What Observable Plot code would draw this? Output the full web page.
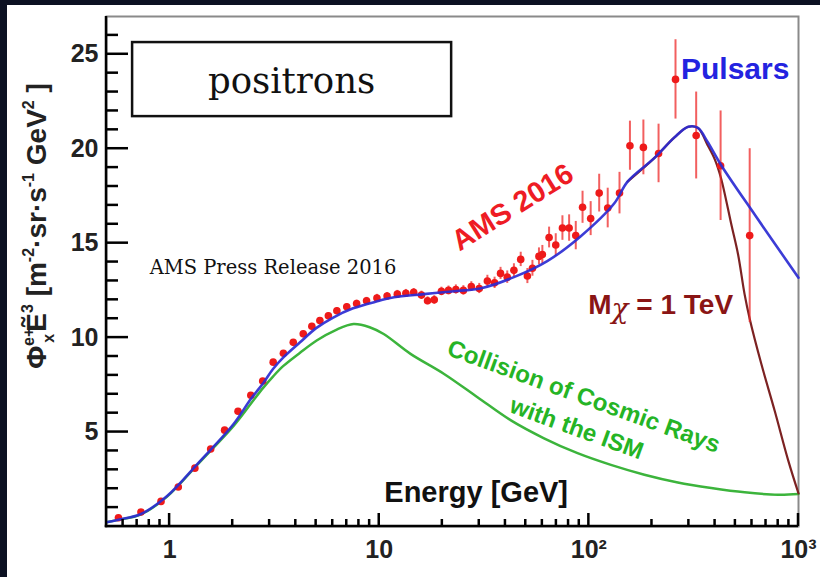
<!DOCTYPE html>
<html><head><meta charset="utf-8">
<script src="https://cdn.jsdelivr.net/npm/d3@7"></script>
<script src="https://cdn.jsdelivr.net/npm/@observablehq/plot@0.6"></script>
<style>
html,body{margin:0;padding:0;width:820px;height:577px;overflow:hidden;background:#0c1122;}
#panel{position:absolute;left:7px;top:5px;width:813px;height:572px;background:#fff;}
#chart{position:absolute;left:0;top:0;}
</style></head><body>
<div id="panel"></div><div id="chart"></div>
<script>
// AMS 2016 positron flux x E^3
const energy = [0.57,0.73,0.91,1.10,1.32,1.57,1.83,2.12,2.44,2.78,3.12,3.49,3.89,4.34,4.77,5.21,5.72,6.28,7.0,7.8,8.7,9.75,10.9,12.2,13.4,14.6,15.9,17.0,18.3,19.8,21.4,23.2,25.2,27.5,30.0,32.8,35.5,37.9,40.8,43.9,47.3,50.9,53.8,57.8,60.0,64.6,69.5,74.8,80.5,86.6,93.3,102,112,123,140,157,182,215,259,325,425,585];
const flux = [0.46,0.77,1.33,2.09,3.09,4.10,5.10,6.10,6.95,7.70,8.70,9.17,9.75,10.2,10.6,10.9,11.16,11.42,11.63,11.8,11.95,12.1,12.2,12.3,12.35,12.4,12.25,11.95,12.0,12.45,12.5,12.55,12.5,12.7,12.6,13.0,12.9,13.4,13.2,13.56,14.14,13.26,13.67,14.3,14.4,15.3,14.9,15.8,15.8,15.4,16.9,16.3,17.65,16.86,17.65,20.16,20.07,19.75,23.67,20.7,19.1,15.4];
const fluxErr = [0.05,0.06,0.07,0.08,0.09,0.1,0.1,0.11,0.12,0.13,0.14,0.14,0.15,0.15,0.15,0.16,0.16,0.17,0.17,0.18,0.18,0.19,0.19,0.2,0.2,0.2,0.21,0.21,0.22,0.22,0.23,0.24,0.25,0.26,0.27,0.3,0.3,0.32,0.33,0.35,0.38,0.4,0.42,0.45,0.48,0.55,0.6,0.65,0.7,0.75,0.85,0.9,1.0,1.05,1.1,1.3,1.45,1.55,2.1,2.3,2.9,4.6];

// Pulsars model (blue)
const pulsarEnergy = [0.5,0.57,0.73,0.97,1.39,2.01,2.44,2.8,3.12,3.49,4.19,5.0,6.0,7.5,10,11.3,16.3,23.5,30.3,43.9,63.3,91.5,132,153,205,256,298,331,368,427,619,1000];
const pulsarFlux = [0.23,0.36,0.66,1.6,3.44,5.4,6.75,7.6,8.35,8.95,9.75,10.5,11.05,11.55,11.95,12.1,12.3,12.47,12.6,13.2,14.05,15.37,17.1,18.26,19.5,20.6,21.16,21.1,20.37,19.14,16.5,13.17];

// Dark matter model M_chi = 1 TeV (brown)
const darkMatterEnergy = [153,205,256,298,331,368,400,427,478,515,553,585,665,771,893,1000];
const darkMatterFlux = [18.26,19.5,20.6,21.16,21.1,20.2,19.4,18.44,16.0,14.4,12.3,11.0,8.6,6.1,3.5,1.75];

// Collision of cosmic rays with the ISM (green)
const secondaryEnergy = [0.5,0.57,0.73,0.97,1.39,2.01,2.44,2.8,3.12,3.49,4.19,5.03,6.2,7.54,9.0,10.5,14.1,20.3,29.3,42.3,61.1,88.3,127.4,184,265.6,383.6,553.6,799,1000];
const secondaryFlux = [0.23,0.35,0.64,1.57,3.4,5.3,6.5,7.35,7.95,8.5,9.2,9.85,10.4,10.72,10.55,10.19,9.14,8.09,6.86,5.63,4.67,3.88,3.26,2.74,2.33,2.04,1.81,1.68,1.72];

// ticks
const xMajorTicks = [1,10,100,1000];
const xTickLabels = ["1","10","10²","10³"];
const xMinorTicks = [0.6,0.7,0.8,0.9,2,3,4,5,6,7,8,9,20,30,40,50,60,70,80,90,200,300,400,500,600,700,800,900];
const yMajorTicks = [5,10,15,20,25];
const yMinorTicks = [1,2,3,4,6,7,8,9,11,12,13,14,16,17,18,19,21,22,23,24,26];

const points = energy.map((e,i)=>({e, f: flux[i], err: fluxErr[i]}));
const pulsar = pulsarEnergy.map((e,i)=>({e, f: pulsarFlux[i]}));
const dm = darkMatterEnergy.map((e,i)=>({e, f: darkMatterFlux[i]}));
const sec = secondaryEnergy.map((e,i)=>({e, f: secondaryFlux[i]}));

const sans = "'Liberation Sans', Arial, Helvetica, sans-serif";
const serif = "'DejaVu Serif', serif";
const axisColor = "#000000";
const xMin = 0.5, xMax = 1000, yMin = 0, yMax = 27;
const W = 820, H = 577, mL = 106, mR = 22, mT = 16, mB = 51;
// pixel lengths converted to data offsets along each scale
const pxPerDecade = (W - mL - mR) / Math.log10(xMax / xMin);
const pxPerUnitY = (H - mT - mB) / (yMax - yMin);
const xAt = px => xMin * Math.pow(10, px / pxPerDecade);
const yAt = px => yMin + px / pxPerUnitY;
const kx = w => Math.pow(10, (w / 2) / pxPerDecade);
const hy = w => (w / 2) / pxPerUnitY;

const chart = Plot.plot({
  width: W, height: H,
  marginLeft: mL, marginRight: mR, marginTop: mT, marginBottom: mB,
  style: {background: "transparent", fontFamily: sans, overflow: "visible"},
  x: {type: "log", domain: [xMin, xMax]},
  y: {domain: [yMin, yMax]},
  marks: [
    Plot.frame({stroke: "#8a8a8a", strokeWidth: 2}),
    Plot.axisY(yMajorTicks, {tickSize: 0, tickPadding: 8, label: null, fontSize: 25, fontWeight: "bold", fill: "#222"}),
    Plot.axisX(xMajorTicks, {tickSize: 0, tickPadding: 14, label: null, fontSize: 25, fontWeight: "bold", fill: "#222",
      tickFormat: d => xTickLabels[xMajorTicks.indexOf(d)]}),

    // positrons box
    Plot.rect([0], {x1: 0.666, x2: 22.15, y1: 21.7, y2: 25.62, fill: "white", stroke: "#111", strokeWidth: 2.5}),
    Plot.text(["positrons"], {x: 3.82, y: 23.56, text: d => d, fontFamily: serif, fontSize: 35.5, fill: "#111"}),
    Plot.text(["AMS Press Release 2016"], {x: 0.803, y: 13.39, text: d => d, textAnchor: "start", lineAnchor: "bottom", fontFamily: serif, fontSize: 19.5, fill: "#111"}),

    // models
    Plot.line(sec, {x: "e", y: "f", curve: "catmull-rom", stroke: "#3cb43c", strokeWidth: 2.5}),
    Plot.line(dm, {x: "e", y: "f", curve: "catmull-rom", stroke: "#7c2222", strokeWidth: 2.2}),

    // data
    Plot.ruleX(points, {x: "e", y1: d => d.f - d.err, y2: d => d.f + d.err, stroke: "#ee2a2a", strokeOpacity: 0.75, strokeWidth: 2}),
    Plot.dot(points, {x: "e", y: "f", r: 3.8, fill: "#ee1a1a"}),

    Plot.line(pulsar, {x: "e", y: "f", curve: "catmull-rom", stroke: "#2b2bd2", strokeWidth: 2.6, strokeOpacity: 0.92}),

    // annotations
    Plot.text(["AMS 2016"], {x: 43.3, y: 16.89, text: d => d, rotate: -32, fontSize: 29, fontWeight: "bold", fill: "#ee1c24"}),
    Plot.text(["Pulsars"], {x: 499, y: 24.19, text: d => d, fontSize: 30, fontWeight: "bold", fill: "#2323e0"}),
    Plot.text(["Mχ = 1 TeV"], {x: 220, y: 11.75, text: d => d, fontSize: 28, fontWeight: "bold", fill: "#8a1515"}),
    Plot.text(["Collision of Cosmic Rays"], {x: 94.5, y: 6.88, text: d => d, rotate: 20, fontSize: 24, fontWeight: "bold", fill: "#25b425"}),
    Plot.text(["with the ISM"], {x: 87.5, y: 5.19, text: d => d, rotate: 20, fontSize: 24, fontWeight: "bold", fill: "#25b425"}),
    Plot.text(["Energy [GeV]"], {x: 29, y: 1.8, text: d => d, fontSize: 29, fontWeight: "bold", fill: "#111"}),

    // black left and bottom axis lines and inward ticks (drawn last, on top)
    Plot.rect([yMin], {x1: xMin / kx(2.5), x2: xMax, y1: d => d - hy(2.5), y2: d => d + hy(2.5), fill: axisColor}),
    Plot.rect([xMin], {x1: d => d / kx(2.5), x2: d => d * kx(2.5), y1: yMin - hy(2.5), y2: yMax, fill: axisColor}),
    Plot.rect(yMajorTicks, {x1: xMin, x2: xAt(22), y1: d => d - hy(2.5), y2: d => d + hy(2.5), fill: axisColor}),
    Plot.rect(yMinorTicks, {x1: xMin, x2: xAt(12), y1: d => d - hy(2.5), y2: d => d + hy(2.5), fill: axisColor}),
    Plot.rect(xMajorTicks, {x1: d => d / kx(2.5), x2: d => d * kx(2.5), y1: yMin, y2: yAt(13), fill: axisColor}),
    Plot.rect(xMinorTicks, {x1: d => d / kx(2.5), x2: d => d * kx(2.5), y1: yMin, y2: yAt(7), fill: axisColor})
  ]
});
document.getElementById("chart").appendChild(chart);

const svg = d3.select(chart);

// serif chi in the dark-matter label
svg.selectAll("text").each(function() {
  const el = d3.select(this);
  if (el.text() === "Mχ = 1 TeV") {
    el.text(null);
    el.append("tspan").text("M");
    el.append("tspan").attr("font-family", serif).attr("font-weight", "normal").attr("font-style", "italic").attr("dy", 4).text("χ");
    el.append("tspan").attr("dy", -4).text(" = 1 TeV");
  }
});

// y-axis label with super/subscripts
const yl = svg.append("text")
  .attr("transform", "translate(46,226) rotate(-90)")
  .attr("text-anchor", "middle")
  .attr("font-family", sans)
  .attr("font-size", 28)
  .attr("font-weight", "bold")
  .attr("fill", "#222");
const big = 28, small = 16;
const parts = [
  {t: "Φ", s: big, dy: 0},
  {t: "e+", s: small, dy: -12},
  {t: "x", s: small, dy: 20, dx: -15},
  {t: "Ẽ", s: big, dy: -8, dx: 2},
  {t: "3", s: small, dy: -13},
  {t: " [m", s: big, dy: 13},
  {t: "-2", s: small, dy: -12},
  {t: "·", s: big, dy: 12},
  {t: "sr", s: big, dy: 0},
  {t: "·", s: big, dy: 0},
  {t: "s", s: big, dy: 0},
  {t: "-1", s: small, dy: -12},
  {t: " GeV", s: big, dy: 12},
  {t: "2", s: small, dy: -12},
  {t: " ]", s: big, dy: 12}
];
for (const p of parts) {
  const ts = yl.append("tspan").attr("font-size", p.s).attr("dy", p.dy).text(p.t);
  if (p.dx) ts.attr("dx", p.dx);
}
</script>
</body></html>
